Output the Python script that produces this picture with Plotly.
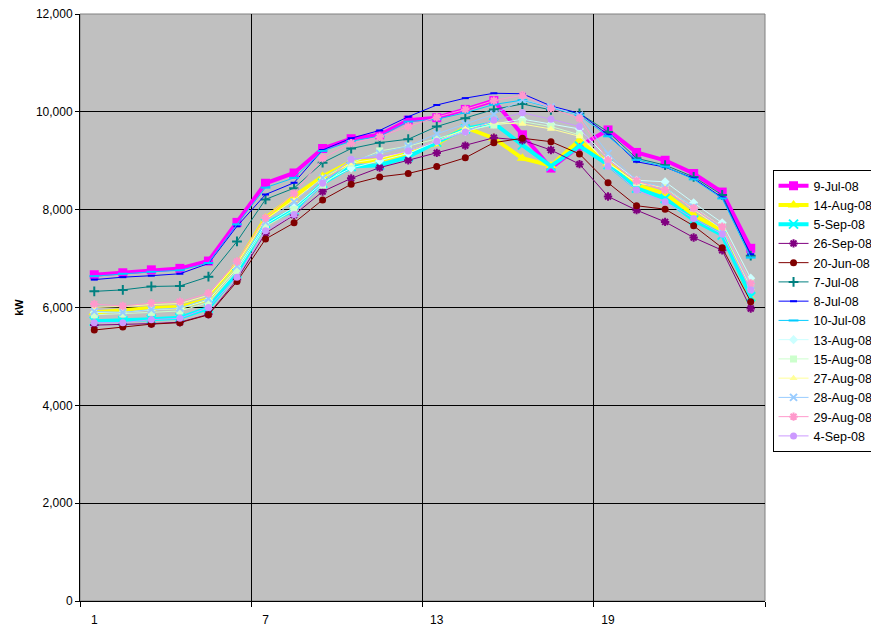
import plotly.graph_objects as go

hours = list(range(1, 25))
x_labels = ["1", "7", "13", "19"]
x_label_pos = [1, 7, 13, 19]

s_9jul = [6670, 6710, 6770, 6800, 6950, 7740, 8540, 8750, 9250, 9450, 9530, 9830,
          9880, 10050, 10230, 9530, 8850, 9300, 9630, 9170, 9010, 8740, 8360, 7210]
s_14aug = [5900, 5950, 5990, 6010, 6170, 6880, 7830, 8270, 8680, 8980, 9010, 9150,
           9350, 9680, 9460, 9050, 8900, 9420, 8950, 8500, 8330, 7890, 7580, 6180]
s_5sep = [5720, 5730, 5760, 5790, 5990, 6700, 7720, 7990, 8540, 8880, 8910, 9080,
          9380, 9650, 9770, 9320, 8890, 9300, 8920, 8440, 8230, 7790, 7480, 6220]
s_26sep = [5640, 5650, 5670, 5700, 5860, 6570, 7520, 7890, 8370, 8640, 8860, 9010,
           9160, 9310, 9470, 9420, 9220, 8930, 8270, 7990, 7750, 7430, 7170, 5980]
s_20jun = [5540, 5600, 5660, 5690, 5850, 6530, 7400, 7730, 8200, 8520, 8670, 8740,
           8880, 9060, 9370, 9460, 9390, 9140, 8550, 8080, 8010, 7670, 7220, 6120]
s_7jul = [6330, 6360, 6430, 6440, 6630, 7350, 8210, 8440, 8960, 9250, 9370, 9440,
          9700, 9870, 10050, 10160, 10040, 9970, 9590, 9050, 8910, 8670, 8300, 7060]
s_8jul = [6570, 6620, 6650, 6690, 6900, 7660, 8310, 8550, 9220, 9460, 9620, 9900,
          10140, 10280, 10380, 10370, 10120, 9970, 9530, 8980, 8870, 8640, 8250, 7090]
s_10jul = [6640, 6690, 6730, 6760, 6910, 7700, 8450, 8650, 9200, 9400, 9500, 9800,
           9850, 9980, 10150, 10240, 10080, 9930, 9500, 9020, 8880, 8620, 8230, 7020]
s_13aug = [5900, 5900, 5950, 5980, 6150, 6800, 7700, 8050, 8550, 8850, 9000, 9150,
           9400, 9600, 9750, 9850, 9750, 9650, 9050, 8600, 8570, 8140, 7730, 6600]
s_15aug = [5850, 5870, 5900, 5930, 6100, 6750, 7650, 8000, 8500, 8950, 9200, 9300,
           9450, 9620, 9730, 9800, 9700, 9530, 8950, 8550, 8450, 8050, 7650, 6500]
s_27aug = [6000, 6020, 6060, 6080, 6250, 6900, 7800, 8200, 8650, 8950, 9050, 9200,
           9400, 9650, 9780, 9750, 9650, 9500, 8950, 8550, 8450, 8000, 7600, 6400]
s_28aug = [5920, 5900, 5960, 5990, 6180, 6850, 7750, 8160, 8650, 9000, 9150, 9300,
           9550, 9750, 9950, 10250, 10100, 9930, 9150, 8600, 8450, 8050, 7600, 6450]
s_29aug = [6070, 6030, 6090, 6120, 6290, 6940, 7830, 8330, 9050, 9360, 9490, 9700,
           9890, 10050, 10230, 10340, 10070, 9870, 9010, 8590, 8400, 8030, 7650, 6490]
s_4sep = [5690, 5690, 5750, 5780, 6000, 6620, 7570, 7900, 8540, 9030, 9080, 9200,
          9400, 9590, 9830, 9980, 9850, 9700, 8890, 8400, 8160, 7820, 7500, 6360]

series = [
    ("9-Jul-08", s_9jul, "#FF00FF", "square", 9, 4),
    ("14-Aug-08", s_14aug, "#FFFF00", "triangle-up", 10, 4),
    ("5-Sep-08", s_5sep, "#00FFFF", "x-thin-open", 9, 4),
    ("26-Sep-08", s_26sep, "#800080", "asterisk-open", 7, 1),
    ("20-Jun-08", s_20jun, "#800000", "circle", 7, 1),
    ("7-Jul-08", s_7jul, "#008080", "cross-thin-open", 7, 1),
    ("8-Jul-08", s_8jul, "#0000FF", "line-ew-open", 5, 1),
    ("10-Jul-08", s_10jul, "#00CCFF", "line-ew-open", 7, 1),
    ("13-Aug-08", s_13aug, "#CCFFFF", "diamond", 7, 1),
    ("15-Aug-08", s_15aug, "#CCFFCC", "square", 7, 1),
    ("27-Aug-08", s_27aug, "#FFFF99", "triangle-up", 7, 1),
    ("28-Aug-08", s_28aug, "#99CCFF", "x-thin-open", 7, 1),
    ("29-Aug-08", s_29aug, "#FF99CC", "asterisk-open", 7, 1),
    ("4-Sep-08", s_4sep, "#CC99FF", "circle", 7, 1),
]

fig = go.Figure()
for name, vals, color, sym, msize, lw in series:
    open_sym = sym.endswith("-open")
    fig.add_trace(go.Scatter(
        x=hours, y=vals, name=name, mode="lines+markers",
        line=dict(color=color, width=lw),
        marker=dict(symbol=sym, size=msize, color=color,
                    line=dict(color=color, width=2 if open_sym else 0)),
    ))

font_family = "Arial, Liberation Sans, sans-serif"
fig.update_layout(
    width=871, height=628,
    margin=dict(l=80, r=106, t=14, b=27, autoexpand=False),
    paper_bgcolor="white",
    plot_bgcolor="#C0C0C0",
    font=dict(family=font_family, size=12, color="black"),
    showlegend=True,
    legend=dict(
        x=1.011, y=0.7342, xanchor="left", yanchor="top",
        bgcolor="white", bordercolor="black", borderwidth=1,
        font=dict(size=12.5, family=font_family),
        tracegroupgap=0, itemwidth=30,
    ),
    xaxis=dict(
        range=[0.5, 24.5], tickmode="array", tickvals=x_label_pos, ticktext=x_labels,
        showgrid=False, zeroline=False,
        ticks="outside", ticklen=8, tickcolor="rgba(0,0,0,0)",
        showline=True, linecolor="black", linewidth=1,
        tickfont=dict(size=12),
        minor=dict(tickmode="linear", tick0=0.5, dtick=6, ticks="outside", ticklen=5,
                   tickcolor="black", showgrid=True, gridcolor="black", gridwidth=1),
    ),
    yaxis=dict(
        range=[0, 12000], tickmode="linear", tick0=0, dtick=2000, tickformat=",d",
        showgrid=True, gridcolor="black", gridwidth=1, zeroline=False,
        ticks="outside", ticklen=4, tickcolor="black",
        showline=True, linecolor="black", linewidth=1,
        tickfont=dict(size=12),
        title=dict(text="<b>kW</b>", font=dict(size=11, family=font_family), standoff=10),
    ),
)
fig.add_shape(type="rect", xref="paper", yref="paper", x0=0, y0=0, x1=1, y1=1,
              line=dict(color="#808080", width=1), layer="below")

fig.write_html("out.html")
